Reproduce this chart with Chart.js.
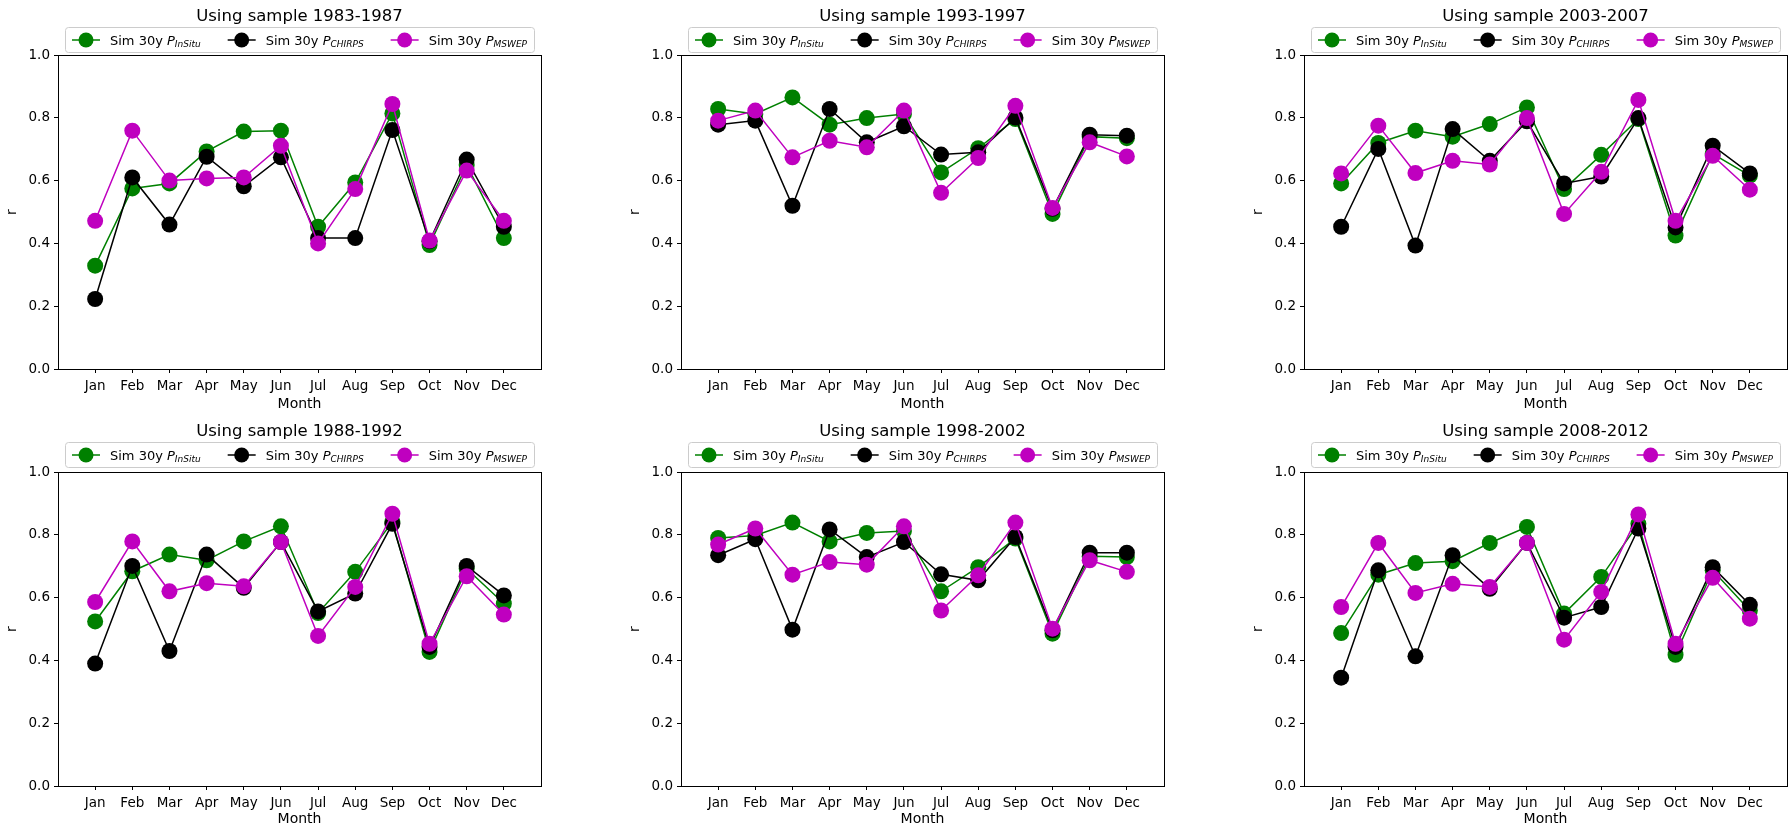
<!DOCTYPE html>
<html>
<head>
<meta charset="utf-8">
<script src="https://cdn.jsdelivr.net/npm/chart.js@4.4.1/dist/chart.umd.min.js"></script>
<style>
  body { margin: 0; background: #fff; width: 1789px; height: 830px; overflow: hidden; position: relative; }
  canvas { position: absolute; }
</style>
</head>
<body>
<canvas id="c0" width="549" height="415" style="left:0px;top:0px"></canvas>
<canvas id="c1" width="549" height="415" style="left:623px;top:0px"></canvas>
<canvas id="c2" width="549" height="415" style="left:1246px;top:0px"></canvas>
<canvas id="c3" width="549" height="415" style="left:0px;top:415px"></canvas>
<canvas id="c4" width="549" height="415" style="left:623px;top:415px"></canvas>
<canvas id="c5" width="549" height="415" style="left:1246px;top:415px"></canvas>
<script>
const months = ['Jan','Feb','Mar','Apr','May','Jun','Jul','Aug','Sep','Oct','Nov','Dec'];
const yTicks = [0, 0.2, 0.4, 0.6, 0.8, 1.0];

// panel order: top row left->right, then bottom row
const samples = ['1983-1987', '1993-1997', '2003-2007', '1988-1992', '1998-2002', '2008-2012'];

const seriesSubs = ['InSitu', 'CHIRPS', 'MSWEP'];
const seriesColors = ['#008000', '#000000', '#bf00bf'];

// r values, one row per sample
const rInSitu = [
  [0.329, 0.575, 0.591, 0.693, 0.756, 0.759, 0.453, 0.594, 0.814, 0.395, 0.650, 0.417],
  [0.828, 0.812, 0.865, 0.778, 0.799, 0.812, 0.626, 0.703, 0.796, 0.494, 0.740, 0.735],
  [0.591, 0.720, 0.759, 0.740, 0.780, 0.833, 0.573, 0.682, 0.796, 0.425, 0.685, 0.616],
  [0.524, 0.684, 0.737, 0.719, 0.779, 0.827, 0.551, 0.682, 0.841, 0.427, 0.692, 0.581],
  [0.790, 0.798, 0.839, 0.779, 0.806, 0.812, 0.620, 0.697, 0.788, 0.485, 0.732, 0.729],
  [0.487, 0.673, 0.710, 0.716, 0.774, 0.825, 0.549, 0.666, 0.835, 0.418, 0.687, 0.559]
];
const rChirps = [
  [0.223, 0.610, 0.460, 0.676, 0.582, 0.674, 0.417, 0.417, 0.761, 0.407, 0.667, 0.453],
  [0.778, 0.791, 0.520, 0.828, 0.722, 0.773, 0.683, 0.690, 0.801, 0.510, 0.746, 0.743],
  [0.453, 0.701, 0.393, 0.764, 0.663, 0.789, 0.591, 0.613, 0.799, 0.451, 0.711, 0.623],
  [0.390, 0.701, 0.430, 0.737, 0.631, 0.777, 0.556, 0.613, 0.835, 0.443, 0.701, 0.607],
  [0.735, 0.786, 0.498, 0.817, 0.729, 0.777, 0.674, 0.655, 0.793, 0.496, 0.743, 0.743],
  [0.345, 0.687, 0.413, 0.735, 0.628, 0.774, 0.536, 0.570, 0.820, 0.443, 0.697, 0.577]
];
const rMswep = [
  [0.472, 0.759, 0.600, 0.607, 0.610, 0.711, 0.400, 0.573, 0.844, 0.409, 0.632, 0.472],
  [0.791, 0.823, 0.674, 0.727, 0.706, 0.823, 0.561, 0.672, 0.838, 0.513, 0.722, 0.677],
  [0.623, 0.775, 0.624, 0.663, 0.651, 0.799, 0.494, 0.628, 0.857, 0.472, 0.679, 0.571],
  [0.586, 0.779, 0.620, 0.646, 0.636, 0.777, 0.478, 0.634, 0.867, 0.453, 0.668, 0.546],
  [0.769, 0.820, 0.673, 0.713, 0.705, 0.827, 0.559, 0.671, 0.839, 0.501, 0.719, 0.682],
  [0.570, 0.774, 0.615, 0.644, 0.634, 0.774, 0.466, 0.618, 0.865, 0.453, 0.663, 0.533]
];

const FONT = '"DejaVu Sans", sans-serif';

// matplotlib style frame, title and legend (with subscripts)
const mplPlugin = {
  id: 'mpl',
  afterDraw(chart, args, opts) {
    const ctx = chart.ctx, a = chart.chartArea;
    ctx.save();
    // box around axes
    ctx.strokeStyle = '#000';
    ctx.lineWidth = 1;
    ctx.strokeRect(Math.round(a.left) + 0.5, Math.round(a.top) + 0.5,
                   Math.round(a.right - a.left), Math.round(a.bottom - a.top));

    const cx = (a.left + a.right) / 2;
    // title
    ctx.fillStyle = '#000';
    ctx.font = '16.5px ' + FONT;
    ctx.textAlign = 'center';
    ctx.textBaseline = 'middle';
    ctx.fillText(opts.title, cx, 17);

    // legend
    const fs = 13, sfs = 9;
    const handle = 28, gap = 10, colsp = 27, pad = 7;
    const widths = seriesSubs.map(s => {
      ctx.font = fs + 'px ' + FONT;
      let w = ctx.measureText('Sim 30y ').width;
      ctx.font = 'italic ' + fs + 'px ' + FONT;
      w += ctx.measureText('P').width;
      ctx.font = 'italic ' + sfs + 'px ' + FONT;
      return w + ctx.measureText(s).width;
    });
    let total = pad * 2 + colsp * 2;
    widths.forEach(w => total += handle + gap + w);
    const bx = Math.round(cx - total / 2), by = 27, bh = 25;
    ctx.beginPath();
    ctx.roundRect(bx + 0.5, by + 0.5, Math.round(total), bh, 3);
    ctx.fillStyle = 'rgba(255,255,255,0.8)';
    ctx.fill();
    ctx.strokeStyle = '#cccccc';
    ctx.lineWidth = 1;
    ctx.stroke();

    const ly = by + bh / 2 + 0.5;
    let x = bx + pad;
    seriesSubs.forEach((s, i) => {
      const col = seriesColors[i];
      ctx.strokeStyle = col;
      ctx.lineWidth = 1.5;
      ctx.beginPath();
      ctx.moveTo(x, ly);
      ctx.lineTo(x + handle, ly);
      ctx.stroke();
      ctx.fillStyle = col;
      ctx.beginPath();
      ctx.arc(x + handle / 2, ly, 7.5, 0, Math.PI * 2);
      ctx.fill();
      let tx = x + handle + gap;
      ctx.fillStyle = '#000';
      ctx.textAlign = 'left';
      ctx.textBaseline = 'alphabetic';
      const base = ly + 4.5;
      ctx.font = fs + 'px ' + FONT;
      ctx.fillText('Sim 30y ', tx, base);
      tx += ctx.measureText('Sim 30y ').width;
      ctx.font = 'italic ' + fs + 'px ' + FONT;
      ctx.fillText('P', tx, base);
      tx += ctx.measureText('P').width;
      ctx.font = 'italic ' + sfs + 'px ' + FONT;
      ctx.fillText(s, tx, base + 2.5);
      x += handle + gap + widths[i] + colsp;
    });
    ctx.restore();
  }
};

function makePanel(idx) {
  const row = idx < 3 ? 0 : 1;
  const axesTop = row === 0 ? 55 : 57;
  const axesBottom = row === 0 ? 369 : 371;
  const canvasH = 415;
  const series = [rInSitu[idx], rChirps[idx], rMswep[idx]];
  const datasets = series.map((vals, i) => ({
    label: 'Sim 30y P' + seriesSubs[i],
    data: vals.map((v, m) => ({ x: m + 1, y: v })),
    borderColor: seriesColors[i],
    backgroundColor: seriesColors[i],
    pointBackgroundColor: seriesColors[i],
    pointBorderColor: seriesColors[i],
    pointRadius: 8,
    pointBorderWidth: 0,
    borderWidth: 1.5,
    tension: 0,
    order: 2 - i,
    clip: false
  }));

  new Chart(document.getElementById('c' + idx).getContext('2d'), {
    type: 'line',
    data: { datasets: datasets },
    options: {
      responsive: false,
      animation: false,
      events: [],
      layout: { padding: { top: axesTop, right: 2, left: 0, bottom: 0 } },
      plugins: {
        legend: { display: false },
        title: { display: false },
        tooltip: { enabled: false },
        mpl: { title: 'Using sample ' + samples[idx] }
      },
      scales: {
        x: {
          type: 'linear',
          min: 0,
          max: 13,
          afterBuildTicks: s => { s.ticks = months.map((m, i) => ({ value: i + 1 })); },
          afterFit: s => { s.height = canvasH - axesBottom; },
          ticks: {
            autoSkip: false,
            maxRotation: 0,
            padding: 5,
            color: '#000',
            font: { family: FONT, size: 13.5 },
            callback: v => months[v - 1]
          },
          grid: { display: true, drawOnChartArea: false, drawTicks: true, tickLength: 4, color: '#000' },
          border: { display: true, color: '#000' },
          title: { display: true, text: 'Month', color: '#000', font: { family: FONT, size: 14 }, padding: { top: 0, bottom: 2 } }
        },
        y: {
          min: 0,
          max: 1,
          afterBuildTicks: s => { s.ticks = yTicks.map(v => ({ value: v })); },
          afterFit: s => { s.width = 58; },
          ticks: {
            padding: 4,
            color: '#000',
            font: { family: FONT, size: 13.5 },
            callback: v => v.toFixed(1)
          },
          grid: { display: true, drawOnChartArea: false, drawTicks: true, tickLength: 4, color: '#000' },
          border: { display: true, color: '#000' },
          title: { display: true, text: 'r', color: '#000', font: { family: FONT, size: 14 }, padding: { top: 4, bottom: 0 } }
        }
      }
    },
    plugins: [mplPlugin]
  });
}

for (let i = 0; i < samples.length; i++) makePanel(i);
</script>
</body>
</html>
